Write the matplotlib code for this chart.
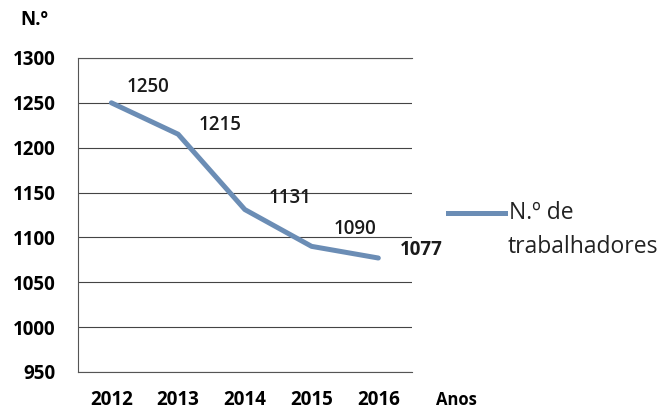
import matplotlib
matplotlib.use("Agg")
import matplotlib.pyplot as plt
from matplotlib.lines import Line2D

years = ["2012", "2013", "2014", "2015", "2016"]
workers = [1250, 1215, 1131, 1090, 1077]
yticks = [950, 1000, 1050, 1100, 1150, 1200, 1250, 1300]

plt.rcParams['font.family'] = ['Open Sans', 'DejaVu Sans']

fig = plt.figure(figsize=(6.64, 4.11), dpi=100)
ax = fig.add_axes([0.1175, 0.095, 0.5025, 0.764])

x = list(range(len(years)))
line_color = "#6b8db5"
ax.plot(x, workers, color=line_color, lw=3.6, solid_capstyle='round')

ax.set_xlim(-0.5, 4.5)
ax.set_ylim(950, 1300)
ax.set_yticks(yticks)
ax.set_yticklabels([str(v) for v in yticks], fontsize=13.5, fontweight='bold')
ax.set_xticks(x)
ax.set_xticklabels(years, fontsize=13.5, fontweight='bold')
ax.tick_params(length=0)
ax.tick_params(axis='y', pad=16)
ax.tick_params(axis='x', pad=13)
ax.grid(axis='y', color='#444444', lw=0.8)
ax.set_axisbelow(True)
ax.spines['right'].set_visible(False)
for s in ['left', 'top', 'bottom']:
    ax.spines[s].set_color('#555555')
    ax.spines[s].set_linewidth(0.8)

offsets = [(0.55, 17.7), (0.63, 10.3), (0.67, 13), (0.65, 19.4), (0.65, 9)]
for i, (xi, v) in enumerate(zip(x, workers)):
    dx, dy = offsets[i]
    ax.text(xi + dx, v + dy, str(v), fontsize=13.5,
            fontweight='bold' if i == 4 else 'semibold',
            color='#1a1a1a', ha='center', va='center', clip_on=False)

fig.text(20/664, 1 - 20/411, "N.º", fontsize=13.5, fontweight='bold', ha='left', va='center')
fig.text(436/664, 1 - 400/411, "Anos", fontsize=12, fontweight='bold', ha='left', va='center')

fig.add_artist(Line2D([448/664, 505/664], [1 - 213/411, 1 - 213/411],
                      color=line_color, lw=3.6, transform=fig.transFigure))
fig.text(509/664, 1 - 213/411, "N.º de", fontsize=16.5, ha='left', va='center', color='#222222')
fig.text(508/664, 1 - 247/411, "trabalhadores", fontsize=16.5, ha='left', va='center', color='#222222')

fig.savefig("out.png", dpi=100)
